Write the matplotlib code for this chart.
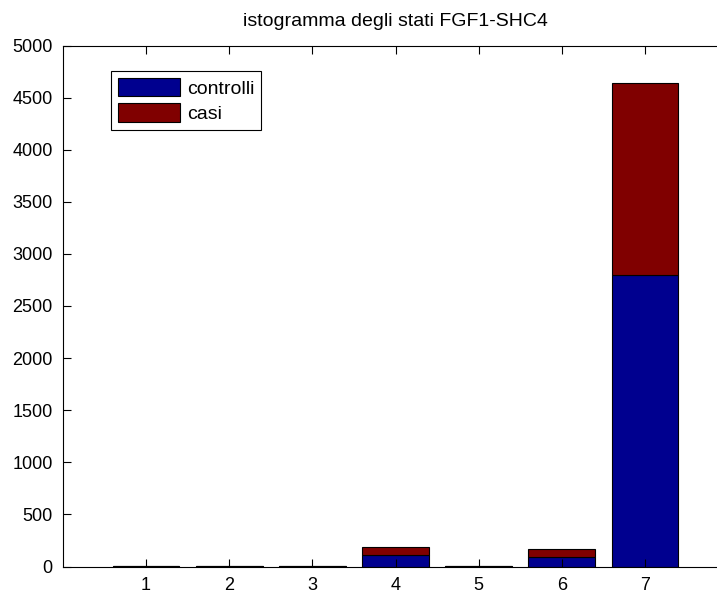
import matplotlib
matplotlib.use("Agg")
import matplotlib.pyplot as plt
import numpy as np

# stati 1..7, conteggi per gruppo
categories = [1, 2, 3, 4, 5, 6, 7]
controlli = [4, 4, 4, 107, 4, 92, 2800]
casi = [3, 3, 3, 78, 3, 78, 1840]
yticks = [0, 500, 1000, 1500, 2000, 2500, 3000, 3500, 4000, 4500, 5000]

plt.rcParams['font.family'] = ['Liberation Sans', 'DejaVu Sans']

W, H = 717, 597
fig = plt.figure(figsize=(W / 100, H / 100), dpi=100)
left_px, right_px, top_px, bottom_px = 63, 728, 45.5, 566.5
ax = fig.add_axes([left_px / W, 1 - bottom_px / H,
                   (right_px - left_px) / W, (bottom_px - top_px) / H])

blue = '#00008F'
red = '#800000'
x = np.array(categories)
ax.bar(x, controlli, width=0.8, color=blue, edgecolor='black', linewidth=0.8,
       label='controlli')
ax.bar(x, casi, width=0.8, bottom=controlli, color=red, edgecolor='black',
       linewidth=0.8, label='casi')

ax.set_xlim(0, 8)
ax.set_ylim(0, 5000)
ax.set_xticks(categories)
ax.set_yticks(yticks)
ax.tick_params(direction='in', length=5.5, width=0.8, labelsize=13,
               top=True, right=True, pad=7.5)
for s in ax.spines.values():
    s.set_linewidth(0.8)

ax.set_title('istogramma degli stati FGF1-SHC4', fontsize=14, pad=14)

leg = ax.legend(loc='upper left', bbox_to_anchor=(0.0722, 0.951),
                fontsize=14, fancybox=False, framealpha=1,
                edgecolor='black', borderpad=0.35, labelspacing=0.3,
                handlelength=3.2, handleheight=1.08, handletextpad=0.35,
                borderaxespad=0)
leg.get_frame().set_linewidth(0.8)

fig.savefig('out.png', dpi=100)
